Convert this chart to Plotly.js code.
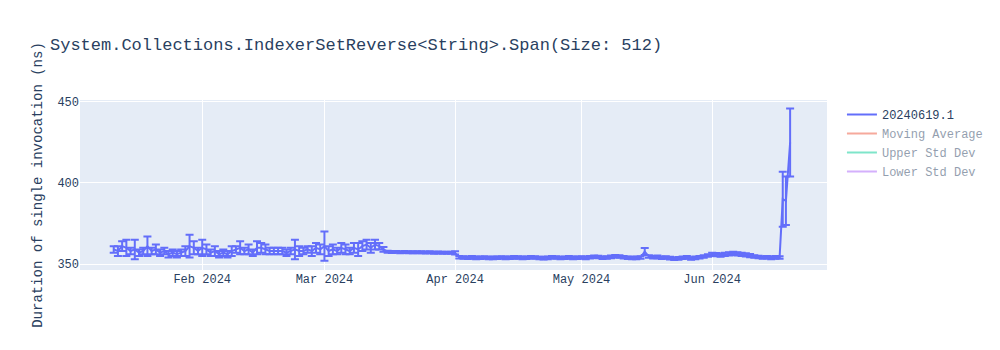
<!DOCTYPE html>
<html>
<head>
<meta charset="utf-8">
<script src="https://cdn.plot.ly/plotly-3.0.1.min.js"></script>
<style>html,body{margin:0;padding:0;background:#fff;}#chart{width:1000px;height:350px;}</style>
</head>
<body>
<div id="chart"></div>
<script>
const chartTitle = "System.Collections.IndexerSetReverse<String>.Span(Size: 512)";
const seriesName = "20240619.1";
const yTitle = "Duration of single invocation (ns)";

const dates = [
"2024-01-11","2024-01-12","2024-01-13","2024-01-14","2024-01-15","2024-01-16","2024-01-17","2024-01-18","2024-01-19","2024-01-20",
"2024-01-21","2024-01-22","2024-01-23","2024-01-24","2024-01-25","2024-01-26","2024-01-27","2024-01-28","2024-01-29","2024-01-30","2024-01-31",
"2024-02-01","2024-02-02","2024-02-03","2024-02-04","2024-02-05","2024-02-06","2024-02-07","2024-02-08","2024-02-09","2024-02-10",
"2024-02-11","2024-02-12","2024-02-13","2024-02-14","2024-02-15","2024-02-16","2024-02-17","2024-02-18","2024-02-19","2024-02-20",
"2024-02-21","2024-02-22","2024-02-23","2024-02-24","2024-02-25","2024-02-26","2024-02-27","2024-02-28","2024-02-29",
"2024-03-01","2024-03-02","2024-03-03","2024-03-04","2024-03-05","2024-03-06","2024-03-07","2024-03-08","2024-03-09","2024-03-10",
"2024-03-11","2024-03-12","2024-03-13","2024-03-14","2024-03-15","2024-03-16","2024-03-17","2024-03-18","2024-03-19","2024-03-20",
"2024-03-21","2024-03-22","2024-03-23","2024-03-24","2024-03-25","2024-03-26","2024-03-27","2024-03-28","2024-03-29","2024-03-30","2024-03-31",
"2024-04-01","2024-04-02","2024-04-03","2024-04-04","2024-04-05","2024-04-06","2024-04-07","2024-04-08","2024-04-09","2024-04-10",
"2024-04-11","2024-04-12","2024-04-13","2024-04-14","2024-04-15","2024-04-16","2024-04-17","2024-04-18","2024-04-19","2024-04-20",
"2024-04-21","2024-04-22","2024-04-23","2024-04-24","2024-04-25","2024-04-26","2024-04-27","2024-04-28","2024-04-29","2024-04-30",
"2024-05-01","2024-05-02","2024-05-03","2024-05-04","2024-05-05","2024-05-06","2024-05-07","2024-05-08","2024-05-09","2024-05-10",
"2024-05-11","2024-05-12","2024-05-13","2024-05-14","2024-05-15","2024-05-16","2024-05-17","2024-05-18","2024-05-19","2024-05-20",
"2024-05-21","2024-05-22","2024-05-23","2024-05-24","2024-05-25","2024-05-26","2024-05-27","2024-05-28","2024-05-29","2024-05-30","2024-05-31",
"2024-06-01","2024-06-02","2024-06-03","2024-06-04","2024-06-05","2024-06-06","2024-06-07","2024-06-08","2024-06-09","2024-06-10",
"2024-06-11","2024-06-12","2024-06-13","2024-06-14","2024-06-15","2024-06-16","2024-06-17",
"2024-06-17 18:00","2024-06-18 12:00","2024-06-19 12:00"
];

const durations = [
359,358,361,360,358,359,357,358,361,358,
359,357,358,356,357,356,357,358,361,360,358,
360,359,357,358,356,357,356,358,359,360,
358,359,357,360,360,359,358,358,358,358,
357,358,359,358,358,359,358,360,359,
361,358,359,358,360,359,358,360,359,361,
362,360,362,361,359,357.6,357.4,357.5,357.3,357.4,
357.2,357.3,357.2,357.3,357.1,357.2,357.0,357.1,357.0,356.9,357.0,
356.8,354.2,354.0,353.9,354.1,353.8,353.9,354.0,353.7,353.8,
353.9,354.0,353.8,353.9,354.1,354.0,353.8,353.9,354.2,354.0,
353.7,353.6,353.8,354.2,354.0,353.7,353.9,354.1,353.8,353.9,
354.0,353.8,354.2,354.5,354.3,353.9,354.0,354.4,354.8,354.6,
354.2,353.9,353.7,353.8,354.0,357.7,354.6,354.2,354.4,353.9,
354.0,353.6,353.2,353.5,353.9,354.1,353.4,353.8,354.2,354.6,355.2,
356.0,355.8,355.5,355.9,356.2,356.5,356.3,356.0,355.7,355.2,
354.6,354.3,354.0,354.2,353.8,354.1,354.0,
390,389,425
];

const errors = [
2,3,3,5,2,6,2,2,6,2,
3,2,2,2,2,2,2,3,7,4,2,
5,3,2,3,2,2,2,3,2,4,
2,3,2,4,3,3,2,2,2,2,
2,2,6,3,2,2,3,3,3,
9,3,3,2,3,3,2,3,4,3,
3,3,3,2,1.5,0.6,0.6,0.6,0.6,0.6,
0.6,0.6,0.6,0.6,0.6,0.6,0.6,0.6,0.6,0.6,0.6,
1,0.8,0.8,0.8,0.8,0.8,0.8,0.8,0.8,0.8,
0.8,0.8,0.8,0.8,0.8,0.8,0.8,0.8,0.8,0.8,
0.8,0.8,0.8,0.8,0.8,0.8,0.8,0.8,0.8,0.8,
0.8,0.8,0.8,0.8,0.8,0.8,0.8,0.8,0.8,0.8,
0.8,0.8,0.8,0.8,0.8,2.2,0.8,0.8,0.8,0.8,
0.8,0.8,0.8,0.8,0.8,0.8,0.8,0.8,0.8,0.8,0.8,
1,1,1,1,1,1,1,1,1,1,
0.8,0.8,0.8,0.8,0.8,0.8,0.8,
17,15,21
];

const extraNames = ["Moving Average","Upper Std Dev","Lower Std Dev"];
const extraColors = ["#EF553B","#00cc96","#ab63fa"];
const windowSize = 5;

// rolling statistics derived from the series (hidden, legend only)
const movAvg = [], upper = [], lower = [];
durations.forEach((v, i) => {
  const s = durations.slice(Math.max(0, i - windowSize + 1), i + 1);
  const m = s.reduce((a, b) => a + b, 0) / s.length;
  const sd = Math.sqrt(s.reduce((a, b) => a + (b - m) * (b - m), 0) / s.length);
  movAvg.push(m); upper.push(m + sd); lower.push(m - sd);
});
const extraY = [movAvg, upper, lower];

const mono = "'Liberation Mono', 'Courier New', monospace";

const traces = [{
  type: "scatter", mode: "lines", name: seriesName,
  x: dates, y: durations,
  line: {color: "#636efa", width: 2},
  error_y: {type: "data", array: errors, visible: true, color: "#636efa", thickness: 2, width: 4}
}];
extraNames.forEach((n, i) => {
  traces.push({type: "scatter", mode: "lines", name: n, x: dates, y: extraY[i],
    line: {color: extraColors[i], width: 2}, visible: "legendonly"});
});

const layout = {
  width: 1000, height: 350,
  margin: {l: 80, r: 80, t: 100, b: 80},
  paper_bgcolor: "#ffffff",
  plot_bgcolor: "#E5ECF6",
  font: {family: mono, size: 12, color: "#2a3f5f"},
  title: {text: chartTitle, x: 0.05, xanchor: "left", font: {family: mono, size: 17, color: "#2a3f5f"}},
  xaxis: {type: "date", range: ["2024-01-03", "2024-06-28 06:00"], gridcolor: "#ffffff", linecolor: "#ffffff",
    zeroline: false, ticks: "", showline: false, automargin: true,
    tickfont: {family: mono, size: 12, color: "#2a3f5f"}},
  yaxis: {range: [346.3, 451.2], gridcolor: "#ffffff", zeroline: false, ticks: "", showline: false,
    dtick: 50, tickfont: {family: mono, size: 12, color: "#2a3f5f"},
    title: {text: yTitle, font: {family: mono, size: 14, color: "#2a3f5f"}}},
  legend: {font: {family: mono, size: 12, color: "#2a3f5f"}},
  showlegend: true
};

Plotly.newPlot("chart", traces, layout, {displayModeBar: false, staticPlot: true});
</script>
</body>
</html>
